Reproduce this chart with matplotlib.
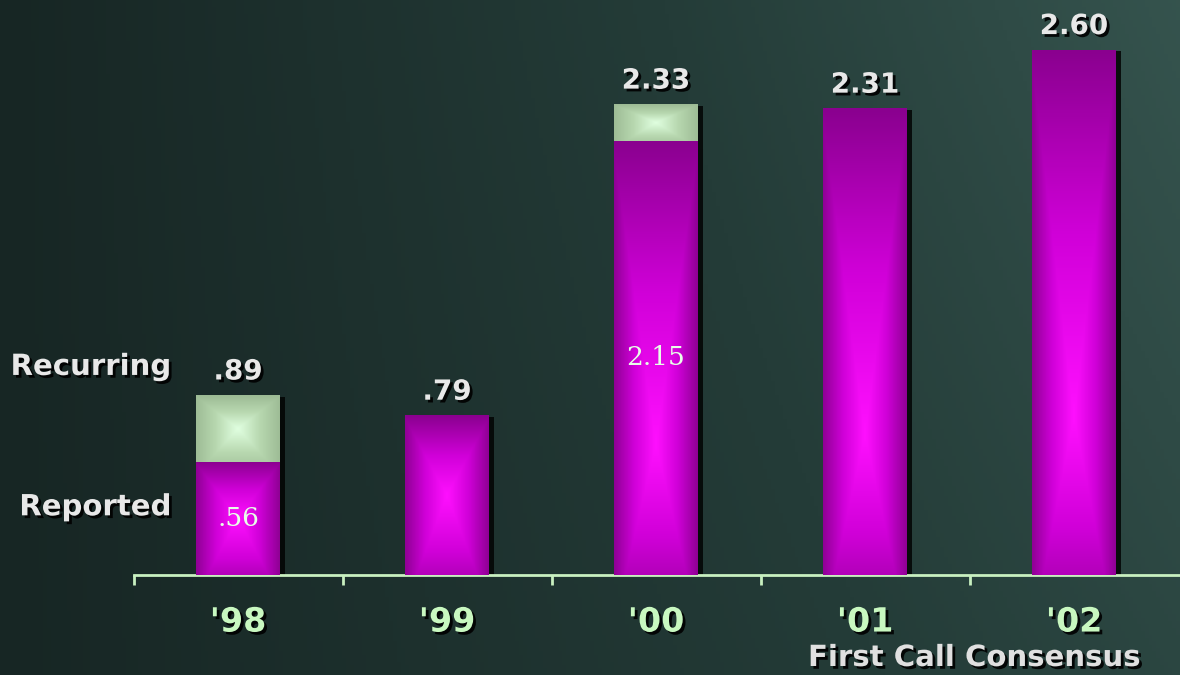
import matplotlib.pyplot as plt
import matplotlib.patheffects as pe
import numpy as np
from matplotlib.colors import LinearSegmentedColormap

# EPS data, reported vs recurring
years = ["'98", "'99", "'00", "'01", "'02"]
reported = [0.56, 0.79, 2.15, 2.31, 2.60]
recurring = [0.89, 0.79, 2.33, 2.31, 2.60]
top_labels = ['.89', '.79', '2.33', '2.31', '2.60']
inside_labels = ['.56', '', '2.15', '', '']

fig = plt.figure(figsize=(11.8, 6.75), dpi=100)

# background gradient
bg = fig.add_axes([0, 0, 1, 1])
bg.axis('off')
gx, gy = np.meshgrid(np.linspace(0, 1, 300), np.linspace(0, 1, 200))
shade = 0.6 * gx + 0.2 * gx * gy
bg_cmap = LinearSegmentedColormap.from_list('bg', ['#172624', '#243c38', '#3a5a54'])
bg.imshow(shade, cmap=bg_cmap, aspect='auto', extent=[0, 1, 0, 1], origin='lower', vmin=0, vmax=0.9)

ax = fig.add_axes([0, 100 / 675, 1, 575 / 675])
ax.patch.set_alpha(0)
ax.set_xlim(-1.139, 4.507)
ax.set_ylim(0, 575 / 202)

x = np.arange(len(years))
width = 0.40
extra = [r - p for r, p in zip(recurring, reported)]

shadow = [pe.SimplePatchShadow(offset=(4, -1), shadow_rgbFace='black', alpha=0.8), pe.Normal()]
mag = ax.bar(x, reported, width, color='#8a008f', zorder=2, path_effects=shadow)
grn = ax.bar(x, extra, width, bottom=reported, color='#a0bf98', zorder=2, path_effects=shadow)

mag_cmap = LinearSegmentedColormap.from_list('mag', ['#ff10ff', '#d000d8', '#8a008f'])
grn_cmap = LinearSegmentedColormap.from_list('grn', ['#e0ffe0', '#b8d8b0', '#9cba94'])
u, v = np.meshgrid(np.linspace(-1, 1, 60), np.linspace(0, 1, 200))
for bars, cm in ((mag, mag_cmap), (grn, grn_cmap)):
    for b in bars:
        if b.get_height() <= 0:
            continue
        x0, y0 = b.get_x(), b.get_y()
        w, h = b.get_width(), b.get_height()
        c = 0.3 if h > 1.5 else 0.5
        vt = np.where(v > c, (v - c) / (1 - c), (c - v) / c * 0.7)
        g = np.maximum(np.abs(u) * 0.95, vt)
        im = ax.imshow(g, cmap=cm, extent=[x0, x0 + w, y0, y0 + h], aspect='auto',
                       origin='lower', zorder=3, vmin=0, vmax=1)
        im.set_clip_path(b)

txt_fx = [pe.withSimplePatchShadow(offset=(2, -2), shadow_rgbFace='black', alpha=0.9)]
for i in range(len(years)):
    ax.annotate(top_labels[i], (x[i], recurring[i]), xytext=(0, 7), textcoords='offset points',
                ha='center', va='bottom', fontsize=20, fontweight='bold', color='#e8e8e8',
                path_effects=txt_fx, zorder=5)
    if inside_labels[i]:
        ax.text(x[i], reported[i] / 2, inside_labels[i], ha='center', va='center',
                fontsize=19, family='DejaVu Serif', color='#e8ffe8', zorder=5)

ax.text(-0.32, recurring[0] + 0.14, 'Recurring', ha='right', va='center', fontsize=21,
        fontweight='bold', color='#e8e8e8', path_effects=txt_fx)
ax.text(-0.32, 0.335, 'Reported', ha='right', va='center', fontsize=21,
        fontweight='bold', color='#e8e8e8', path_effects=txt_fx)

for s in ['top', 'left', 'right']:
    ax.spines[s].set_visible(False)
ax.spines['bottom'].set_bounds(-0.5, 4.507)
ax.spines['bottom'].set_color('#c8f0c0')
ax.spines['bottom'].set_linewidth(2)
ax.set_yticks([])
ax.set_xticks(x)
ax.set_xticklabels(years, fontsize=24, fontweight='bold', color='#c8f8c0')
for t in ax.get_xticklabels():
    t.set_path_effects(txt_fx)
ax.tick_params(axis='x', which='major', length=0, pad=22)
ax.set_xticks(x - 0.5, minor=True)
ax.tick_params(axis='x', which='minor', length=7, width=2, color='#c8f0c0', direction='out')

fig.text(808 / 1180, 17 / 675, 'First Call Consensus', ha='left', va='center', fontsize=21,
         fontweight='bold', color='#e0e0e0', path_effects=txt_fx)

plt.savefig('out.png', dpi=100)
